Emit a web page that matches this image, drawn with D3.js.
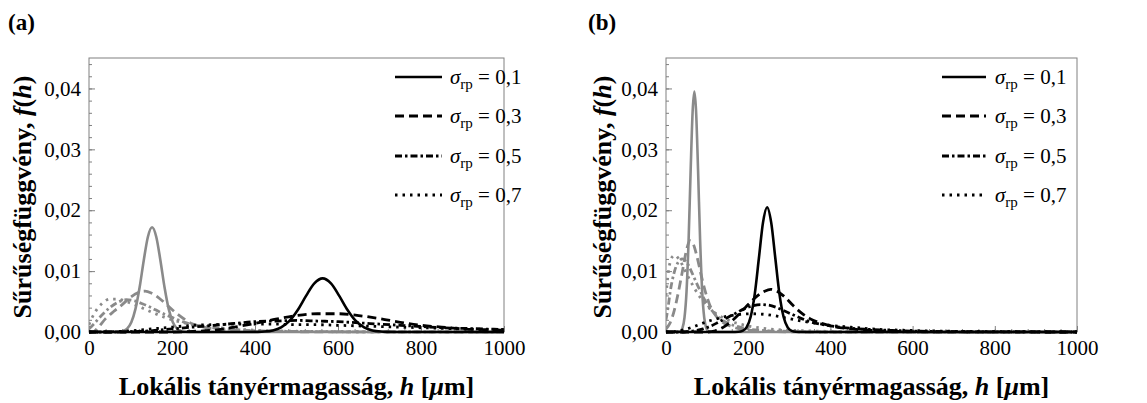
<!DOCTYPE html>
<html><head><meta charset="utf-8">
<script src="https://cdn.jsdelivr.net/npm/d3@7"></script>
<style>
body{margin:0;background:#fff;}
svg text{font-family:"Liberation Serif","DejaVu Serif","Noto Serif","Tinos","FreeSerif","Nimbus Roman","Times New Roman",Times,serif;fill:#000;}
</style></head>
<body><svg id="chart" width="1147" height="403"></svg>
<script>
// ---------- data ----------
const xTicks = [0, 200, 400, 600, 800, 1000];
const yTicks = [0, 0.01, 0.02, 0.03, 0.04];
const yMinorTicks = d3.range(0, 0.0441, 0.002);
const xMinorTicks = d3.range(0, 1001, 40);
const legendLabels = ["0,1", "0,3", "0,5", "0,7"];
const panelLabels = ["(a)", "(b)"];

// panel (a) – black curves
const a_black_01 = [[0,0],[383,0],[403,0.00002],[423,0.00007],[443,0.00025],[463,0.00075],[483,0.00181],[503,0.00362],[523,0.00593],[543,0.00797],[563,0.0088],[583,0.00797],[603,0.00593],[623,0.00362],[643,0.00181],[663,0.00075],[683,0.00025],[703,0.00007],[723,0.00002],[743,0],[1000,0]];
const a_black_03 = [[0,0],[200,0],[250,0.0001],[300,0.0003],[350,0.0008],[400,0.0014],[450,0.0021],[500,0.0027],[550,0.0030],[600,0.0030],[650,0.0027],[700,0.0022],[750,0.0016],[800,0.0011],[850,0.0008],[900,0.0005],[950,0.0004],[1000,0.0003]];
const a_black_05 = [[0,0],[50,0],[100,0.00005],[150,0.0002],[200,0.0005],[250,0.0008],[300,0.0011],[350,0.0014],[400,0.0017],[450,0.0018],[500,0.0019],[550,0.0018],[600,0.0017],[650,0.0015],[700,0.0013],[750,0.0011],[800,0.0009],[850,0.0007],[900,0.0006],[950,0.0005],[1000,0.0004]];
const a_black_07 = [[0,0],[50,0.00003],[100,0.0002],[150,0.0005],[200,0.0008],[250,0.0011],[300,0.0012],[350,0.0013],[400,0.0013],[450,0.0013],[500,0.0012],[550,0.0012],[600,0.0011],[650,0.0010],[700,0.0009],[800,0.0007],[900,0.0005],[1000,0.0004]];
// panel (a) – grey curves
const a_gray_01 = [[0,0],[52,0],[72,0.00004],[82,0.00017],[92,0.00057],[102,0.00162],[112,0.00379],[122,0.00734],[132,0.01179],[142,0.01565],[152,0.0172],[162,0.01565],[172,0.01179],[182,0.00734],[192,0.00379],[202,0.00162],[212,0.00057],[222,0.00017],[232,0.00004],[252,0],[1000,0]];
const a_gray_03 = [[0,0],[10,0],[20,0.0006],[40,0.0022],[60,0.0034],[80,0.0045],[100,0.0057],[120,0.0065],[135,0.0067],[150,0.0064],[170,0.0055],[190,0.0043],[210,0.0031],[230,0.0021],[250,0.0013],[270,0.0009],[300,0.0005],[350,0.0003],[400,0.00015],[500,0.00005],[600,0.00002],[1000,0]];
const a_gray_05 = [[0,0.0005],[10,0.0012],[30,0.0027],[50,0.0040],[70,0.0049],[90,0.0053],[110,0.0051],[130,0.0046],[150,0.0040],[170,0.0033],[200,0.0024],[230,0.0016],[260,0.0011],[300,0.0007],[350,0.0004],[400,0.0002],[500,0.0001],[600,0.00004],[1000,0]];
const a_gray_07 = [[0,0.0012],[5,0.0020],[15,0.0033],[30,0.0046],[50,0.0054],[70,0.0054],[90,0.0050],[110,0.0045],[130,0.0039],[150,0.0033],[175,0.0026],[200,0.0020],[230,0.0015],[260,0.0011],[300,0.0008],[350,0.0005],[400,0.0003],[500,0.00012],[600,0.00005],[1000,0]];

// panel (b) – black curves
const b_black_01 = [[0,0],[160,0],[176,0.00003],[186,0.00018],[196,0.00076],[206,0.0025],[216,0.00627],[226,0.01211],[236,0.01796],[246,0.0205],[256,0.01796],[266,0.01211],[276,0.00627],[286,0.0025],[296,0.00076],[306,0.00018],[316,0.00003],[330,0],[1000,0]];
const b_black_03 = [[0,0],[100,0],[120,0.0002],[140,0.0008],[160,0.0018],[180,0.0031],[200,0.0045],[220,0.0058],[240,0.0067],[255,0.0070],[270,0.0067],[290,0.0057],[310,0.0043],[330,0.0031],[350,0.0022],[375,0.0015],[400,0.0010],[450,0.0005],[500,0.00025],[550,0.00012],[600,0.00006],[700,0.00002],[1000,0]];
const b_black_05 = [[0,0],[40,0],[50,0.00005],[70,0.0002],[90,0.0005],[110,0.0010],[130,0.0017],[150,0.0024],[170,0.0031],[190,0.0038],[210,0.0043],[230,0.0045],[250,0.0044],[270,0.0040],[290,0.0034],[310,0.0028],[330,0.0022],[350,0.0017],[375,0.0013],[400,0.0010],[450,0.0006],[500,0.0004],[550,0.00025],[600,0.00015],[700,0.00006],[800,0.00002],[1000,0]];
const b_black_07 = [[0,0],[20,0.00005],[40,0.0003],[60,0.0007],[80,0.0012],[100,0.0017],[120,0.0021],[150,0.0026],[180,0.0029],[210,0.0030],[240,0.0029],[270,0.0026],[300,0.0022],[330,0.0018],[360,0.0015],[400,0.0011],[450,0.0008],[500,0.0005],[600,0.00025],[700,0.00012],[800,0.00006],[1000,0.00002]];
// panel (b) – grey curves
const b_gray_01 = [[0,0],[25,0],[35,0.00014],[40,0.00064],[45,0.00235],[50,0.0067],[55,0.0151],[60,0.0266],[65,0.0365],[69,0.0395],[73,0.0365],[78,0.0266],[83,0.0151],[88,0.0067],[93,0.00235],[98,0.00064],[103,0.00014],[113,0],[1000,0]];
const b_gray_03 = [[0,0.0005],[10,0.0015],[20,0.0035],[30,0.0065],[40,0.0100],[50,0.0135],[58,0.0150],[66,0.0145],[75,0.0125],[85,0.0095],[95,0.0068],[105,0.0047],[120,0.0028],[140,0.0015],[160,0.0009],[180,0.0005],[200,0.0003],[250,0.0001],[350,0],[1000,0]];
const b_gray_05 = [[0,0.0020],[5,0.0040],[10,0.0065],[20,0.0098],[30,0.0115],[40,0.0120],[50,0.0115],[60,0.0102],[70,0.0087],[80,0.0072],[90,0.0058],[100,0.0046],[120,0.0029],[140,0.0018],[160,0.0012],[180,0.0008],[200,0.0005],[250,0.0002],[300,0.0001],[400,0],[1000,0]];
const b_gray_07 = [[0,0.0060],[2,0.0075],[8,0.0108],[15,0.0123],[22,0.0126],[30,0.0121],[40,0.0110],[50,0.0096],[60,0.0083],[70,0.0071],[80,0.0060],[90,0.0051],[100,0.0043],[120,0.0031],[140,0.0023],[160,0.0017],[180,0.0013],[200,0.0010],[250,0.0005],[300,0.0003],[400,0.0001],[500,0.00004],[600,0],[1000,0]];

// ---------- styles ----------
const SERIF = '"Liberation Serif","DejaVu Serif","Noto Serif","Tinos","FreeSerif","Nimbus Roman","Times New Roman",Times,serif';
const BLACK = "#000", GRAY = "#8a8a8a";
const dashes = ["none", "9,5", "7,3,2.5,3", "2.5,5"];

const panels = [
  {left: 89, right: 504, top: 58, bottom: 332, label: panelLabels[0], labelX: 8, ytitleX: 31,
   legLine: [395, 442], legText: 450,
   black: [a_black_01, a_black_03, a_black_05, a_black_07],
   gray: [a_gray_01, a_gray_03, a_gray_05, a_gray_07]},
  {left: 666, right: 1077, top: 58, bottom: 332, label: panelLabels[1], labelX: 588, ytitleX: 611,
   legLine: [942, 986], legText: 995,
   black: [b_black_01, b_black_03, b_black_05, b_black_07],
   gray: [b_gray_01, b_gray_03, b_gray_05, b_gray_07]}
];

const svg = d3.select("#chart");
svg.append("rect").attr("width", 1147).attr("height", 403).attr("fill", "#fff");

panels.forEach((p, pi) => {
  const x = d3.scaleLinear().domain([0, 1000]).range([p.left, p.right]);
  const y = d3.scaleLinear().domain([0, 0.045]).range([p.bottom, p.top]);
  const g = svg.append("g");

  const cid = "clip" + pi;
  svg.append("clipPath").attr("id", cid).append("rect")
    .attr("x", p.left).attr("y", p.top - 2).attr("width", p.right - p.left).attr("height", p.bottom - p.top + 4);

  g.append("rect").attr("x", p.left).attr("y", p.top).attr("width", p.right - p.left)
    .attr("height", p.bottom - p.top).attr("fill", "none").attr("stroke", "#808080").attr("stroke-width", 1);

  const yAxis = g.append("g").attr("transform", `translate(${p.left},0)`)
    .call(d3.axisLeft(y).tickValues(yTicks).tickSize(-6).tickPadding(8)
      .tickFormat(d => d3.format(".2f")(d).replace(".", ",")));
  yAxis.attr("font-family", SERIF).attr("font-size", 21);
  yAxis.select(".domain").remove();
  yAxis.selectAll(".tick line").attr("stroke", "#808080");
  yAxis.selectAll("text").style("font-size", "21px").style("font-family", SERIF);
  const yMinor = g.append("g").attr("transform", `translate(${p.left},0)`)
    .call(d3.axisLeft(y).tickValues(yMinorTicks).tickSize(-3).tickFormat(""));
  yMinor.select(".domain").remove();
  yMinor.selectAll(".tick line").attr("stroke", "#808080");

  const xAxis = g.append("g").attr("transform", `translate(0,${p.bottom})`)
    .call(d3.axisBottom(x).tickValues(xTicks).tickSize(-6).tickPadding(8).tickFormat(d3.format("d")));
  xAxis.attr("font-family", SERIF).attr("font-size", 21);
  xAxis.select(".domain").remove();
  xAxis.selectAll(".tick line").attr("stroke", "#808080");
  xAxis.selectAll("text").style("font-size", "21px").style("font-family", SERIF);
  const xMinor = g.append("g").attr("transform", `translate(0,${p.bottom})`)
    .call(d3.axisBottom(x).tickValues(xMinorTicks).tickSize(-3).tickFormat(""));
  xMinor.select(".domain").remove();
  xMinor.selectAll(".tick line").attr("stroke", "#808080");

  const line = d3.line().x(d => x(d[0])).y(d => y(d[1])).curve(d3.curveMonotoneX);
  const cg = g.append("g").attr("clip-path", `url(#${cid})`);
  [[p.gray, GRAY], [p.black, BLACK]].forEach(([set, col]) => {
    set.slice().reverse().forEach((s, ri) => {
      const i = set.length - 1 - ri;
      cg.append("path").datum(s).attr("d", line).attr("fill", "none")
        .attr("stroke", col).attr("stroke-width", i === 0 ? 2.6 : 2.8)
        .attr("stroke-dasharray", dashes[i]);
    });
  });

  const rowY = [77, 116, 156, 195];
  legendLabels.forEach((lab, i) => {
    g.append("line").attr("x1", p.legLine[0]).attr("x2", p.legLine[1])
      .attr("y1", rowY[i]).attr("y2", rowY[i]).attr("stroke", BLACK)
      .attr("stroke-width", i === 0 ? 2.6 : 2.8).attr("stroke-dasharray", dashes[i]);
    const t = g.append("text").attr("x", p.legText).attr("y", rowY[i] + 7)
      .style("font-size", "21px").style("font-family", SERIF);
    t.append("tspan").text("σ").style("font-style", "italic");
    t.append("tspan").text("rp").attr("dy", 5).style("font-size", "15px");
    t.append("tspan").text(" = " + lab).attr("dy", -5);
  });

  svg.append("text").attr("x", p.labelX).attr("y", 30).text(p.label)
    .style("font-size", "23px").style("font-weight", "bold").style("font-family", SERIF);

  const xt = svg.append("text").attr("x", (p.left + p.right) / 2).attr("y", 395)
    .attr("text-anchor", "middle").style("font-size", "26px").style("font-weight", "bold").style("font-family", SERIF);
  xt.append("tspan").text("Lokális tányérmagasság, ");
  xt.append("tspan").text("h").style("font-style", "italic");
  xt.append("tspan").text(" [");
  xt.append("tspan").text("μ").style("font-style", "italic");
  xt.append("tspan").text("m]");

  const yt = svg.append("text").attr("transform", `translate(${p.ytitleX},${(p.top + p.bottom) / 2 + 2}) rotate(-90)`)
    .attr("text-anchor", "middle").style("font-size", "26px").style("font-weight", "bold").style("font-family", SERIF);
  yt.append("tspan").text("Sűrűségfüggvény, ");
  yt.append("tspan").text("f").style("font-style", "italic");
  yt.append("tspan").text("(");
  yt.append("tspan").text("h").style("font-style", "italic");
  yt.append("tspan").text(")");
});
</script></body></html>
